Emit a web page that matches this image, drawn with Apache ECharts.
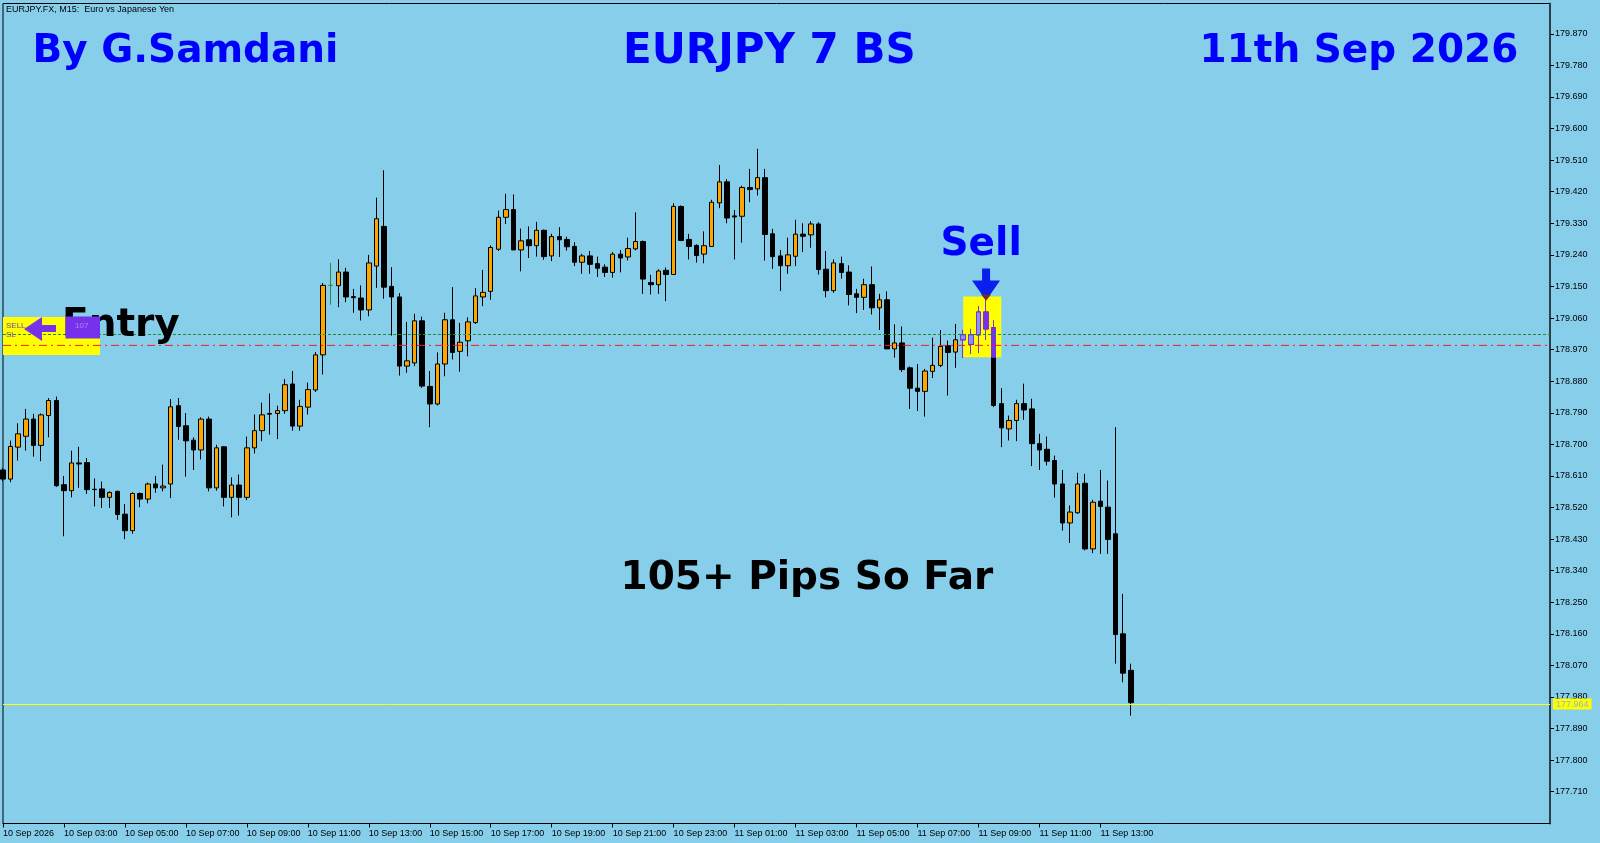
<!DOCTYPE html>
<html><head><meta charset="utf-8">
<script src="https://cdn.jsdelivr.net/npm/echarts@6/dist/echarts.min.js"></script>
<style>html,body{margin:0;padding:0;background:#87CEEB;}#c{width:1600px;height:843px;}</style>
</head><body><div id="c"></div>
<script>
// ---- data (EURJPY M15, bar 0 = 10 Sep 01:00) ----
const opens = [178.627,178.601,178.692,178.723,178.772,178.697,178.782,178.825,178.585,178.568,
178.647,178.648,178.572,178.573,178.549,178.566,178.501,178.454,178.560,178.544,
178.587,178.576,178.587,178.810,178.753,178.712,178.684,178.772,178.576,178.693,
178.549,178.584,178.549,178.690,178.739,178.788,178.788,178.796,178.872,178.752,
178.806,178.855,178.955,179.153,179.152,179.191,179.121,179.117,179.083,179.208,
179.321,179.150,179.120,178.923,178.932,179.052,178.865,178.815,178.929,179.055,
178.965,178.995,179.047,179.120,179.136,179.256,179.347,179.369,179.254,179.283,
179.266,179.310,179.237,179.292,179.284,179.264,179.219,179.237,179.215,179.205,
179.190,179.242,179.234,179.257,179.278,179.161,179.155,179.196,179.184,179.378,
179.284,179.267,179.242,179.264,179.388,179.448,179.351,179.350,179.432,179.428,
179.460,179.300,179.237,179.209,179.236,179.299,179.297,179.328,179.199,179.138,
179.215,179.191,179.129,179.119,179.155,179.089,179.112,178.972,178.989,178.918,
178.860,178.851,178.908,178.925,178.981,178.963,178.998,178.985,179.012,179.077,
179.032,178.816,178.744,178.768,178.816,178.801,178.702,178.686,178.654,178.587,
178.476,178.505,178.589,178.402,178.538,178.521,178.445,178.160,178.056];
const highs = [178.632,178.711,178.760,178.801,178.787,178.788,178.832,178.836,178.610,178.682,
178.693,178.661,178.603,178.594,178.566,178.568,178.530,178.563,178.563,178.591,
178.610,178.642,178.829,178.832,178.789,178.720,178.777,178.779,178.699,178.695,
178.606,178.614,178.722,178.785,178.819,178.845,178.810,178.886,178.909,178.827,
178.876,178.963,179.160,179.217,179.227,179.203,179.143,179.153,179.240,179.403,
179.481,179.205,179.131,179.049,179.072,179.064,178.909,178.962,179.075,179.148,
179.046,179.062,179.145,179.197,179.267,179.366,179.414,179.412,179.315,179.321,
179.334,179.312,179.300,179.319,179.292,179.276,179.243,179.251,179.235,179.213,
179.248,179.254,179.289,179.361,179.281,179.183,179.199,179.204,179.387,179.381,
179.300,179.270,179.307,179.397,179.496,179.456,179.368,179.437,179.485,179.542,
179.485,179.314,179.254,179.289,179.340,179.330,179.336,179.333,179.251,179.227,
179.235,179.210,179.143,179.172,179.207,179.129,179.136,179.042,179.036,178.922,
178.929,178.915,179.004,179.026,178.996,179.043,179.026,179.029,179.093,179.110,
179.053,178.860,178.782,178.827,178.873,178.830,178.730,178.722,178.668,178.627,
178.526,178.619,178.616,178.542,178.627,178.597,178.749,178.274,178.075];
const lows = [178.595,178.592,178.654,178.682,178.665,178.652,178.720,178.579,178.438,178.549,
178.576,178.559,178.523,178.519,178.519,178.485,178.430,178.445,178.521,178.532,
178.562,178.566,178.547,178.713,178.608,178.627,178.657,178.566,178.568,178.523,
178.492,178.497,178.541,178.674,178.709,178.728,178.715,178.787,178.739,178.739,
178.785,178.849,178.899,179.098,179.091,179.105,179.075,179.053,179.065,179.146,
179.115,179.010,178.896,178.904,178.923,178.861,178.749,178.811,178.894,178.942,
178.907,178.951,179.043,179.094,179.112,179.251,179.328,179.254,179.193,179.231,
179.235,179.226,179.222,179.234,179.252,179.208,179.186,179.186,179.177,179.177,
179.175,179.190,179.224,179.253,179.129,179.127,179.129,179.108,179.184,179.279,
179.227,179.218,179.216,179.264,179.373,179.330,179.227,179.275,179.390,179.409,
179.224,179.200,179.137,179.186,179.208,179.248,179.260,179.184,179.119,179.132,
179.172,179.096,179.074,179.083,179.070,179.026,178.972,178.947,178.906,178.801,
178.795,178.779,178.889,178.920,178.839,178.918,178.947,178.958,178.961,178.998,
178.806,178.692,178.711,178.709,178.770,178.638,178.627,178.640,178.548,178.454,
178.419,178.502,178.398,178.390,178.388,178.388,178.075,178.022,177.927];
const closes = [178.601,178.694,178.730,178.772,178.697,178.784,178.825,178.582,178.568,178.647,
178.644,178.571,178.571,178.549,178.563,178.500,178.454,178.560,178.544,178.587,
178.576,178.581,178.807,178.751,178.710,178.684,178.772,178.576,178.690,178.549,
178.584,178.549,178.690,178.739,178.784,178.786,178.796,178.870,178.752,178.808,
178.856,178.955,179.153,179.153,179.191,179.120,179.118,179.083,179.217,179.343,
179.148,179.120,178.923,178.938,179.052,178.866,178.815,178.929,179.055,178.962,
178.991,179.049,179.123,179.133,179.261,179.347,179.369,179.254,179.280,179.266,
179.310,179.235,179.292,179.283,179.263,179.219,179.237,179.213,179.202,179.190,
179.242,179.231,179.258,179.278,179.171,179.155,179.194,179.184,179.378,179.281,
179.264,179.238,179.266,179.390,179.448,179.345,179.348,179.432,179.426,179.460,
179.298,179.235,179.209,179.240,179.299,179.293,179.328,179.198,179.138,179.217,
179.190,179.127,179.119,179.155,179.089,179.112,178.972,178.989,178.913,178.860,
178.851,178.909,178.925,178.979,178.962,178.998,179.012,179.012,179.077,179.029,
178.811,178.747,178.768,178.816,178.798,178.702,178.684,178.652,178.587,178.476,
178.507,178.587,178.402,178.535,178.523,178.429,178.158,178.048,177.964];
const greenDojiBars = [43];
const slotCount = 204;               // visible bar slots incl. empty future space
const startTime = Date.UTC(2026, 8, 10, 1, 0);
const barMinutes = 15;
const xTickLabels = ['10 Sep 2026','10 Sep 03:00','10 Sep 05:00','10 Sep 07:00','10 Sep 09:00','10 Sep 11:00',
 '10 Sep 13:00','10 Sep 15:00','10 Sep 17:00','10 Sep 19:00','10 Sep 21:00','10 Sep 23:00','11 Sep 01:00',
 '11 Sep 03:00','11 Sep 05:00','11 Sep 07:00','11 Sep 09:00','11 Sep 11:00','11 Sep 13:00'];
const xTickStep = 8;
const yTicks = [177.710,177.800,177.890,177.980,178.070,178.160,178.250,178.340,178.430,178.520,178.610,
 178.700,178.790,178.880,178.970,179.060,179.150,179.240,179.330,179.420,179.510,179.600,179.690,179.780,179.870];
const yMin = 177.6195, yMax = 179.9563;
const entryPrice = 179.013, stopPrice = 178.982, lastPrice = 177.964;
const sellBox = {from: 126, to: 131, top: 179.121, bottom: 178.948};
const sellBar = 129;

// ---- build ----
const categories = [];
for (let i = 0; i < slotCount; i++) {
  const d = new Date(startTime + i * barMinutes * 60000);
  categories.push(d.toISOString().slice(0, 16));
}
const candleData = opens.map((o, i) => {
  const item = {value: [o, closes[i], lows[i], highs[i]]};
  if (greenDojiBars.includes(i)) item.itemStyle = {color: '#2e8b3e', color0: '#2e8b3e', borderColor: '#2e8b3e', borderColor0: '#2e8b3e', borderColorDoji: '#2e8b3e'};
  return item;
});
const clampBox = v => Math.min(sellBox.top, Math.max(sellBox.bottom, v));
const boxData = opens.map((o, i) => {
  if (i < sellBox.from || i >= sellBox.to) return '-';
  if (lows[i] > sellBox.top || highs[i] < sellBox.bottom) return '-';
  return [clampBox(o), clampBox(closes[i]), clampBox(lows[i]), clampBox(highs[i])];
});
const isTick = i => i % xTickStep === 0 && i / xTickStep < xTickLabels.length;
const levelLine = (price, color, type, z) => ({
  type: 'line', z: z, silent: true, symbol: 'none', animation: false,
  data: [[0, price], [slotCount - 1, price]],
  lineStyle: {color: color, width: 1, type: type}
});

function bigText(text, x, y, fill, size) {
  return {type: 'text', z: 20, style: {text, x, y, fill, fontFamily: 'DejaVu Sans', fontWeight: 'bold', fontSize: size || 39,
    align: 'left', verticalAlign: 'middle', textAlign: 'left', textVerticalAlign: 'middle'}};
}
function smallText(text, x, y, fill, size) {
  return {type: 'text', z: 22, style: {text, x, y, fill, fontFamily: 'Liberation Sans', fontSize: size || 9,
    align: 'left', verticalAlign: 'middle', textAlign: 'left', textVerticalAlign: 'middle'}};
}

const chart = echarts.init(document.getElementById('c'), null, {renderer: 'canvas'});
chart.setOption({
  backgroundColor: '#87CEEB',
  animation: false,
  grid: {left: 2, top: 3.5, right: 50, bottom: 19.5, show: true, borderColor: '#000', borderWidth: 1, backgroundColor: 'transparent'},
  xAxis: {
    type: 'category', data: categories, boundaryGap: false,
    axisLine: {show: true, lineStyle: {color: '#000', width: 1}},
    axisTick: {show: true, interval: isTick, length: 4, lineStyle: {color: '#000'}},
    axisLabel: {show: true, interval: isTick, formatter: (v, i) => xTickLabels[i / xTickStep] || '',
      align: 'left', margin: 6, fontFamily: 'Liberation Sans', fontSize: 9, color: '#000', hideOverlap: false},
    splitLine: {show: false}
  },
  yAxis: {
    type: 'value', position: 'right', min: yMin, max: yMax, scale: true,
    axisLine: {show: true, lineStyle: {color: '#2b3f47', width: 2}},
    axisTick: {show: true, customValues: yTicks, length: 4, lineStyle: {color: '#000'}},
    axisLabel: {show: true, customValues: yTicks, formatter: v => v.toFixed(3), margin: 5,
      fontFamily: 'Liberation Sans', fontSize: 9, color: '#000'},
    splitLine: {show: false}
  },
  series: [
    {
      type: 'line', data: [], z: 1, silent: true,
      markArea: {silent: true, itemStyle: {color: '#FFFF00', opacity: 1},
        data: [[{xAxis: sellBox.from, yAxis: sellBox.top}, {xAxis: sellBox.to, yAxis: sellBox.bottom}]]}
    },
    levelLine(entryPrice, '#1f8f2a', [3, 2], 4),
    levelLine(stopPrice, '#ff1a1a', [8, 4, 2, 4], 4),
    {
      type: 'candlestick', data: candleData, z: 2, barWidth: 5, clip: true,
      itemStyle: {color: '#FFA500', color0: '#000000', borderColor: '#000000', borderColor0: '#000000', borderWidth: 1},
      markLine: {
        silent: true, symbol: ['none', 'none'],
        data: [
          {yAxis: lastPrice, lineStyle: {color: '#FFFF00', width: 1, type: 'solid'},
            label: {show: true, position: 'end', distance: 3, formatter: () => lastPrice.toFixed(3),
              backgroundColor: '#FFFF00', color: '#8fb4dc', fontFamily: 'Liberation Sans', fontSize: 9, padding: [1, 3, 1, 3]}}
        ]
      },
      markPoint: {
        silent: true, label: {show: false},
        data: [
          {coord: [sellBar, highs[sellBar]], symbol: 'path://M10,0 L18,0 L18,12 L28,12 L14,32 L0,12 L10,12 Z',
            symbolSize: [28, 32], symbolOffset: [0, '-50%'], itemStyle: {color: '#0a1ef0'}},
          {coord: [sellBar, highs[sellBar]], symbol: 'path://M0,0 L10,0 L5,6 Z',
            symbolSize: [10, 6], symbolOffset: [0, '-50%'], itemStyle: {color: '#7a2a1e'}}
        ]
      }
    },
    {
      type: 'candlestick', data: boxData, z: 3, barWidth: 5, silent: true,
      itemStyle: {color: '#8794EB', color0: '#7831EB', borderColor: '#7831EB', borderColor0: '#7831EB', borderWidth: 1}
    }
  ],
  graphic: {elements: [
    smallText('EURJPY.FX, M15:  Euro vs Japanese Yen', 6, 9.5, '#000'),
    bigText('By G.Samdani', 32.5, 52, '#0000FF'),
    bigText('EURJPY 7 BS', 623, 52, '#0000FF', 42),
    bigText('11th Sep 2026', 1199.5, 52, '#0000FF'),
    bigText('Sell', 940.5, 244.5, '#0000FF'),
    bigText('105+ Pips So Far', 620.5, 579, '#000000'),
    {type: 'rect', z: 1, shape: {x: 3, y: 317, width: 97, height: 38}, style: {fill: '#FFFF00'}},
    smallText('SELL', 6, 326, '#7040c0', 8),
    smallText('SL', 6, 335, '#7040c0', 8),
    {type: 'polygon', z: 21, shape: {points: [[24, 329], [42, 317], [42, 325], [56, 325], [56, 332], [42, 332], [42, 341]]}, style: {fill: '#7831EB'}},
    bigText('Entry', 62, 326, '#000000'),
    {type: 'rect', z: 21, shape: {x: 65.5, y: 316.5, width: 34.5, height: 22}, style: {fill: '#7831EB'}},
    smallText('107', 75, 326, '#a58cf5', 8)
  ]}
});
</script></body></html>
